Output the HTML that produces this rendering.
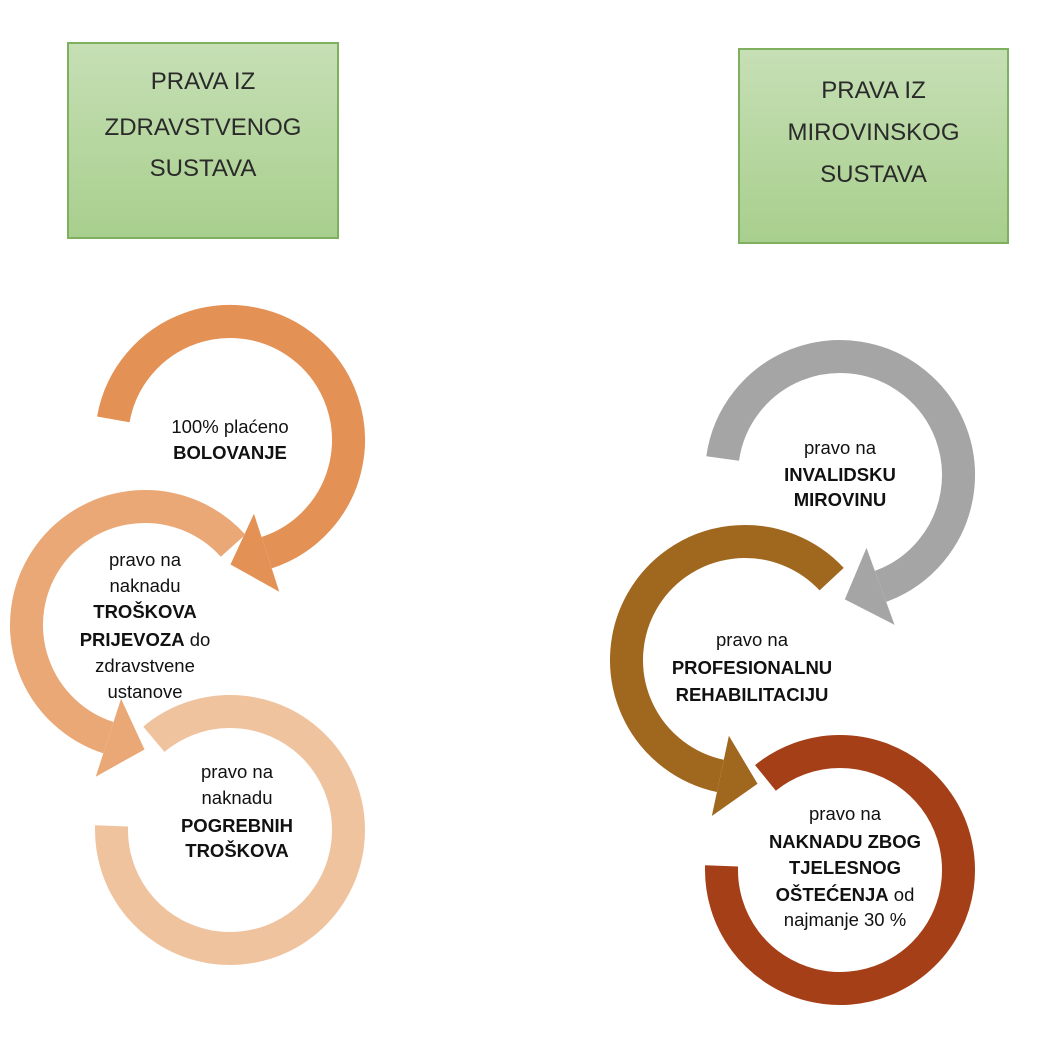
<!DOCTYPE html>
<html><head><meta charset="utf-8">
<style>
html,body{margin:0;padding:0;background:#fff;}
body{width:1048px;height:1040px;overflow:hidden;position:relative;}
svg{position:absolute;left:0;top:0;}
.box{position:absolute;background:linear-gradient(#c6dfb5,#a8cf8d);border:2px solid #7fb05f;box-sizing:border-box;font-family:"Liberation Sans",sans-serif;font-size:24px;color:#2a2a2a;text-align:center;}
.box div{position:absolute;left:0;right:0;}
</style></head><body>
<svg id="s" width="1048" height="1040" viewBox="0 0 1048 1040" font-family="Liberation Sans, sans-serif" font-size="18.5" fill="#111" text-anchor="middle"></svg>
<div class="box" style="left:67px;top:42px;width:272px;height:197px;">
<div style="top:24px">PRAVA IZ</div><div style="top:70px">ZDRAVSTVENOG</div><div style="top:111px">SUSTAVA</div></div>
<div class="box" style="left:738px;top:48px;width:271px;height:196px;">
<div style="top:27px">PRAVA IZ</div><div style="top:69px">MIROVINSKOG</div><div style="top:111px">SUSTAVA</div></div>
<script>
var s=document.getElementById('s'),out='';
var R=118.5,W=33;
function P(cx,cy,a){a=a*Math.PI/180;return [cx+R*Math.cos(a),cy+R*Math.sin(a)];}
function ring(cx,cy,a0,a1,col,arrow){
  var cw=a1>a0, span=Math.abs(a1-a0);
  var p0=P(cx,cy,a0),p1=P(cx,cy,a1);
  var d='M'+p0[0]+' '+p0[1];
  var n=Math.ceil(span/170);
  for(var i=1;i<=n;i++){var a=a0+(a1-a0)*i/n,p=P(cx,cy,a);d+=' A'+R+' '+R+' 0 0 '+(cw?1:0)+' '+p[0]+' '+p[1];}
  out+='<path d="'+d+'" fill="none" stroke="'+col+'" stroke-width="'+W+'"/>';
  if(arrow){
    var r=a1*Math.PI/180, tx,ty;
    if(cw){tx=-Math.sin(r);ty=Math.cos(r);}else{tx=Math.sin(r);ty=-Math.cos(r);}
    var nx=Math.cos(r),ny=Math.sin(r);
    var tip=[p1[0]+38*tx,p1[1]+38*ty];
    out+='<polygon fill="'+col+'" points="'+(p1[0]+41*nx)+','+(p1[1]+41*ny)+' '+tip[0]+','+tip[1]+' '+(p1[0]-41*nx)+','+(p1[1]-41*ny)+'"/>';
  }
}
function txt(x,lines){lines.forEach(function(l){out+='<text x="'+x+'" y="'+l[0]+'"'+(l[2]?' font-weight="bold"':'')+'>'+l[1]+'</text>';});}
ring(230,440,190,432,'#e39154',1);
ring(145,625,318,108,'#eaa877',1);
ring(230,830,230,542,'#f0c39f',0);
ring(840,475,188,430,'#a5a5a5',1);
ring(745,660,317,102,'#a0671f',1);
ring(840,870,231,542,'#a53f17',0);
txt(230,[[433,'100% plaćeno'],[459,'BOLOVANJE',1]]);
out+='<text x="145" y="566">pravo na</text><text x="145" y="592">naknadu</text><text x="145" y="618" font-weight="bold">TROŠKOVA</text><text x="145" y="646"><tspan font-weight="bold">PRIJEVOZA</tspan> do</text><text x="145" y="672">zdravstvene</text><text x="145" y="698">ustanove</text>';
txt(237,[[778,'pravo na'],[804,'naknadu'],[832,'POGREBNIH',1],[857,'TROŠKOVA',1]]);
txt(840,[[454,'pravo na'],[481,'INVALIDSKU',1],[506,'MIROVINU',1]]);
txt(752,[[646,'pravo na'],[674,'PROFESIONALNU',1],[701,'REHABILITACIJU',1]]);
out+='<text x="845" y="820">pravo na</text><text x="845" y="848" font-weight="bold">NAKNADU ZBOG</text><text x="845" y="874" font-weight="bold">TJELESNOG</text><text x="845" y="901"><tspan font-weight="bold">OŠTEĆENJA</tspan> od</text><text x="845" y="926">najmanje 30 %</text>';
s.innerHTML=out;
</script>
</body></html>
